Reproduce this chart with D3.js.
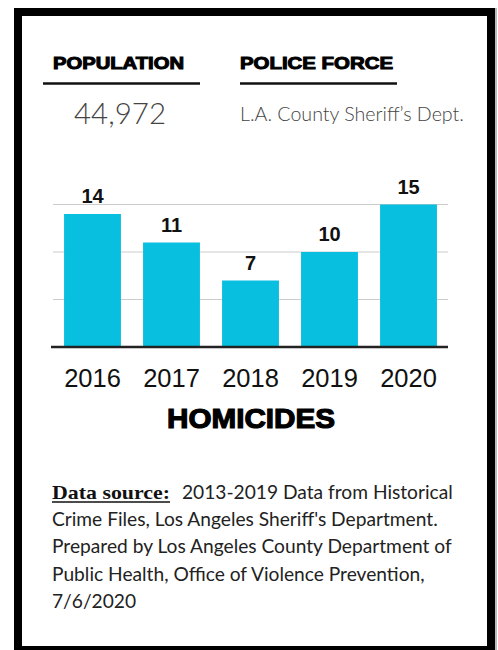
<!DOCTYPE html>
<html>
<head>
<meta charset="utf-8">
<script src="https://cdn.jsdelivr.net/npm/d3@7"></script>
<style>
  html, body { margin: 0; padding: 0; background: #fff; }
  svg { display: block; }
</style>
</head>
<body>
<svg id="chart" width="498" height="650"></svg>
<script>
// ---- data ----
const years = ["2016", "2017", "2018", "2019", "2020"];
const homicides = [14, 11, 7, 10, 15];
const gridValues = [5, 10, 15];
const headers = ["POPULATION", "POLICE FORCE"];
const headerValues = ["44,972", "L.A. County Sheriff\u2019s Dept."];
const chartTitle = "HOMICIDES";
const sourceLabel = "Data source:";
const sourceLines = [
  "2013-2019 Data from Historical",
  "Crime Files, Los Angeles Sheriff's Department.",
  "Prepared by Los Angeles County Department of",
  "Public Health, Office of Violence Prevention,",
  "7/6/2020"
];

const svg = d3.select("#chart");
const sans = "'Liberation Sans', Arial, Helvetica, sans-serif";
const light = "Lato, 'Noto Sans', sans-serif";

function fitSize(sel, target) {
  const n = sel.node();
  const fs = parseFloat(sel.attr("font-size"));
  const len = n.getComputedTextLength();
  sel.attr("font-size", (fs * target / len).toFixed(2));
}

// frame
svg.append("rect").attr("x", 18).attr("y", 12).attr("width", 473).attr("height", 638)
  .attr("fill", "#fff").attr("stroke", "#000").attr("stroke-width", 8);
svg.append("line").attr("x1", 496).attr("x2", 496).attr("y1", 8).attr("y2", 650)
  .attr("stroke", "#bbb").attr("stroke-width", 2);

// header blocks
const hx = [53, 240], hw = [131, 153];
const ulx = [[43, 200], [240, 397]];
headers.forEach((h, i) => {
  const t = svg.append("text").attr("x", hx[i]).attr("y", 68.5)
    .attr("font-family", sans).attr("font-weight", "bold").attr("font-size", 16.5)
    .attr("fill", "#000").attr("stroke", "#000").attr("stroke-width", 1)
    .text(h);
  t.attr("textLength", hw[i]).attr("lengthAdjust", "spacingAndGlyphs");
  svg.append("line").attr("x1", ulx[i][0]).attr("x2", ulx[i][1])
    .attr("y1", 83.5).attr("y2", 83.5).attr("stroke", "#111").attr("stroke-width", 2.5);
});
const pv = svg.append("text").attr("x", 120).attr("y", 124).attr("text-anchor", "middle")
  .attr("font-family", light).attr("font-weight", 300).attr("font-size", 30)
  .attr("fill", "#444").text(headerValues[0]);
fitSize(pv, 92);
const fv = svg.append("text").attr("x", 240).attr("y", 121)
  .attr("font-family", light).attr("font-weight", 300).attr("font-size", 17)
  .attr("fill", "#444").text(headerValues[1]);
fitSize(fv, 224);

// bar chart
const x = d3.scaleBand().domain(years).range([53, 448]).paddingInner(0.28).paddingOuter(0.14);
const y = d3.scaleLinear().domain([0, 15]).range([347, 204.5]);

svg.append("g").selectAll("line").data(gridValues).join("line")
  .attr("x1", 53).attr("x2", 448)
  .attr("y1", d => y(d)).attr("y2", d => y(d))
  .attr("stroke", "#ccc").attr("stroke-width", 1);

const data = years.map((yr, i) => ({ yr, v: homicides[i] }));
svg.append("g").selectAll("rect").data(data).join("rect")
  .attr("x", d => x(d.yr)).attr("width", x.bandwidth())
  .attr("y", d => y(d.v)).attr("height", d => y(0) - y(d.v))
  .attr("fill", "#09bfdf");

svg.append("g").selectAll("text").data(data).join("text")
  .attr("x", d => x(d.yr) + x.bandwidth() / 2)
  .attr("y", d => y(d.v) - 11)
  .attr("text-anchor", "middle")
  .attr("font-family", sans).attr("font-weight", "bold").attr("font-size", 20)
  .attr("fill", "#111").text(d => d.v);

const axis = svg.append("g").attr("transform", `translate(0,${y(0)})`)
  .call(d3.axisBottom(x).tickSize(0).tickPadding(0));
axis.select(".domain").attr("stroke", "#222").attr("stroke-width", 2.5)
  .attr("d", "M51,0H448");
axis.selectAll(".tick text")
  .attr("dy", null).attr("y", 40)
  .attr("font-family", sans).attr("font-size", 25.5).attr("fill", "#111");

const ht = svg.append("text").attr("x", 251).attr("y", 428).attr("text-anchor", "middle")
  .attr("font-family", sans).attr("font-weight", "bold").attr("font-size", 27.5)
  .attr("fill", "#000").attr("stroke", "#000").attr("stroke-width", 1.2)
  .text(chartTitle);
ht.attr("textLength", 168).attr("lengthAdjust", "spacingAndGlyphs");

// data source
const sx = 52, sy0 = 499, lh = 27.2;
const lbl = svg.append("text").attr("x", sx).attr("y", sy0)
  .attr("font-family", "'Liberation Serif', 'Times New Roman', serif").attr("font-weight", "bold")
  .attr("font-size", 19).attr("fill", "#111").text(sourceLabel);
lbl.attr("textLength", 118).attr("lengthAdjust", "spacingAndGlyphs");
svg.append("line").attr("x1", sx).attr("x2", sx + 118)
  .attr("y1", sy0 + 3).attr("y2", sy0 + 3).attr("stroke", "#111").attr("stroke-width", 1.4);

const probe = svg.append("text").attr("font-family", light).attr("font-size", 16)
  .text(sourceLines[2]);
const bodySize = 16 * 400 / probe.node().getComputedTextLength();
probe.remove();

svg.append("g").selectAll("text").data(sourceLines).join("text")
  .attr("x", (d, i) => i === 0 ? 182 : sx)
  .attr("y", (d, i) => sy0 + i * lh)
  .attr("font-family", light).attr("font-size", bodySize.toFixed(2))
  .attr("fill", "#222").text(d => d);
</script>
</body>
</html>
